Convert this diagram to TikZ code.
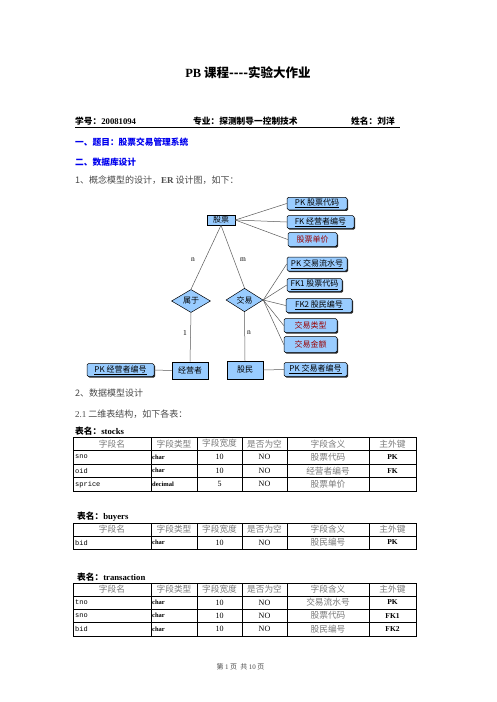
\documentclass[tikz,border=0pt]{standalone}
\usepackage{fontspec}
\setmainfont{Liberation Serif}
\setmonofont{Liberation Mono}
\newfontfamily\cjk{Noto Sans CJK SC}
\usepackage{tikz}
\usetikzlibrary{shapes,arrows,positioning,shadows}
\definecolor{erblue}{HTML}{99CCFF}
\definecolor{headblue}{HTML}{0000EE}
\definecolor{attrred}{HTML}{990000}
\definecolor{textgray}{HTML}{4A4A4A}
\definecolor{cellgray}{HTML}{7A7A7A}
\tikzstyle{entity} = [rectangle, draw, fill=erblue, inner sep=0pt, line width=0.6pt, font=\cjk\fontsize{8}{9}\selectfont]
\tikzstyle{rel} = [diamond, draw, fill=erblue, inner sep=0pt, line width=0.5pt, font=\cjk\fontsize{8}{9}\selectfont]
\tikzstyle{attr} = [rectangle, rounded corners=1.5pt, draw, fill=erblue, inner sep=0pt, line width=0.5pt, drop shadow={shadow xshift=1.2pt, shadow yshift=-1.2pt, fill=black!85, opacity=1}, font=\cjk\fontsize{8}{9}\selectfont]
\tikzstyle{line} = [draw, black!65, line width=0.5pt]
\tikzstyle{card} = [inner sep=0pt, font=\fontsize{7.5}{8}\selectfont]
\tikzstyle{txt} = [anchor=west, inner sep=0pt, text=textgray, font=\cjk\fontsize{9}{10}\selectfont]
\tikzstyle{bhead} = [anchor=west, inner sep=0pt, text=headblue, font=\cjk\bfseries\fontsize{8.7}{10}\selectfont]
\tikzstyle{tname} = [anchor=west, inner sep=0pt, font=\cjk\bfseries\fontsize{8.7}{10}\selectfont]
\tikzstyle{cell} = [inner sep=0pt, text=cellgray, font=\cjk\fontsize{8.7}{10}\selectfont]
\tikzstyle{grid} = [draw, line width=0.7pt]

% header row of a table, #1 = row centre
\newcommand{\tablehead}[1]{%
  \node [cell] at (112,#1) {字段名};
  \node [cell] at (174,#1) {字段类型};
  \node [cell] at (219.5,#1) {字段宽度};
  \node [cell] at (264.5,#1) {是否为空};
  \node [cell] at (328,#1) {字段含义};
  \node [cell] at (392.5,#1) {主外键};
}
% one data row: y, field, type, width, null, meaning, key
\newcommand{\tablerow}[7]{%
  \node [inner sep=0pt, anchor=west, font=\ttfamily\fontsize{7}{8}\selectfont] at (75,#1) {#2};
  \node [inner sep=0pt, anchor=west, font=\bfseries\fontsize{6.5}{8}\selectfont] at (152,#1) {#3};
  \node [inner sep=0pt, font=\fontsize{8}{9}\selectfont] at (219.5,#1) {#4};
  \node [inner sep=0pt, font=\fontsize{8}{9}\selectfont] at (264.5,#1) {#5};
  \node [cell] at (328,#1) {#6};
  \node [inner sep=0pt, font=\bfseries\fontsize{7.5}{9}\selectfont] at (392.5,#1) {#7};
}

\begin{document}
\begin{tikzpicture}[x=1pt, y=-1pt]
\fill [white] (0,0) rectangle (496,702);
\useasboundingbox (0,0) rectangle (496,702);

% page head
\node [inner sep=0pt, font=\cjk\bfseries\fontsize{12.5}{14}\selectfont] (title) at (248,73) {{\rmfamily PB} 课程----实验大作业};
\node [tname] (sid) at (75,121) {学号：{\rmfamily 20081094}};
\node [tname] (major) at (193,121) {专业：探测制导一控制技术};
\node [tname] (sname) at (351,121) {姓名：刘洋};
\draw [line width=0.8pt] (75,127) -- (400,127);
\node [bhead] (topic) at (75,142) {一、题目：股票交易管理系统};
\node [bhead] (dbdesign) at (75,162) {二、数据库设计};
\node [txt] (er) at (75,180) {1、概念模型的设计，{\rmfamily\bfseries ER} 设计图，如下：};

% ER diagram
\node [entity, minimum width=28, minimum height=10] (stock) at (221,220) {股票};
\node [entity, minimum width=36, minimum height=17] (dealer) at (190,370.5) {经营者};
\node [entity, minimum width=36, minimum height=18] (buyer) at (245,370) {股民};

\node [rel, minimum width=39, minimum height=18] (belong) at (191,301) {属于};
\node [rel, minimum width=37, minimum height=18] (trade) at (244.5,300) {交易};

\node [attr, minimum width=60, minimum height=12.5] (sno) at (317,203.5) {\underline{PK 股票代码}};
\node [attr, minimum width=67, minimum height=13] (oid) at (320.5,222) {\underline{FK 经营者编号}};
\node [attr, minimum width=49, minimum height=14, text=attrred] (sprice) at (312.5,239.5) {股票单价};
\node [attr, minimum width=60, minimum height=14] (tno) at (317,264) {\underline{PK 交易流水号}};
\node [attr, minimum width=55, minimum height=13] (tsno) at (314.5,285) {\underline{FK1 股票代码}};
\node [attr, minimum width=66, minimum height=14] (tbid) at (319,305.5) {\underline{FK2 股民编号}};
\node [attr, minimum width=53, minimum height=14, text=attrred] (ttype) at (310.5,325.5) {交易类型};
\node [attr, minimum width=53, minimum height=16, text=attrred] (tsum) at (310.5,344.5) {交易金额};
\node [attr, minimum width=67, minimum height=13] (did) at (120.5,370) {\underline{PK 经营者编号}};
\node [attr, minimum width=63, minimum height=14] (bid) at (315.5,369.5) {\underline{PK 交易者编号}};

\node [card] (n1) at (193,260) {n};
\node [card] (m1) at (243,260) {m};
\node [card] (one) at (185,333) {1};
\node [card] (n2) at (249,333) {n};

\path [line] (stock.east) -- (sno.west);
\path [line] (stock.east) -- (oid.west);
\path [line] (stock.east) -- (sprice.west);
\path [line] (stock.south) -- (belong.north);
\path [line] (stock.south) -- (trade.north);
\path [line] (belong.south) -- (dealer.north);
\path [line] (trade.south) -- (buyer.north);
\path [line] (trade.east) -- (tno.west);
\path [line] (trade.east) -- (tsno.west);
\path [line] (trade.east) -- (tbid.west);
\path [line] (trade.east) -- (ttype.west);
\path [line] (trade.east) -- (tsum.west);
\path [line] (did.east) -- (dealer.west);
\path [line] (buyer.east) -- (bid.west);

% data model
\node [txt] (dm) at (75,393) {2、数据模型设计};
\node [txt] (tbl) at (75,414) {{\rmfamily 2.1} 二维表结构，如下各表：};

% stocks
\node [tname] (tstocks) at (75,431) {表名：{\rmfamily stocks}};
\path [grid] (73,437) rectangle (416,491);
\foreach \ry in {450.5,464,477.5} \path [grid] (73,\ry) -- (416,\ry);
\foreach \cx in {151,197,242,287,369} \path [grid] (\cx,437) -- (\cx,491);
\tablehead{443.7}
\tablerow{457}{sno}{char}{10}{NO}{股票代码}{PK}
\tablerow{470.7}{oid}{char}{10}{NO}{经营者编号}{FK}
\tablerow{484.3}{sprice}{decimal}{5}{NO}{股票单价}{}

% buyers
\node [tname] (tbuyers) at (77,517) {表名：{\rmfamily buyers}};
\path [grid] (73,523) rectangle (416,549);
\path [grid] (73,536) -- (416,536);
\foreach \cx in {151,197,242,287,369} \path [grid] (\cx,523) -- (\cx,549);
\tablehead{529.5}
\tablerow{542.5}{bid}{char}{10}{NO}{股民编号}{PK}

% transaction
\node [tname] (ttrans) at (77,577) {表名：{\rmfamily transaction}};
\path [grid] (73,583) rectangle (416,636);
\foreach \ry in {596,609,622.5} \path [grid] (73,\ry) -- (416,\ry);
\foreach \cx in {151,197,242,287,369} \path [grid] (\cx,583) -- (\cx,636);
\tablehead{589.5}
\tablerow{602.5}{tno}{char}{10}{NO}{交易流水号}{PK}
\tablerow{615.7}{sno}{char}{10}{NO}{股票代码}{FK1}
\tablerow{629}{bid}{char}{10}{NO}{股民编号}{FK2}

\node [inner sep=0pt, text=textgray, font=\cjk\fontsize{7}{8}\selectfont] (foot) at (240.5,667) {第 {\rmfamily 1} 页 \ 共 {\rmfamily 10} 页};
\end{tikzpicture}
\end{document}
